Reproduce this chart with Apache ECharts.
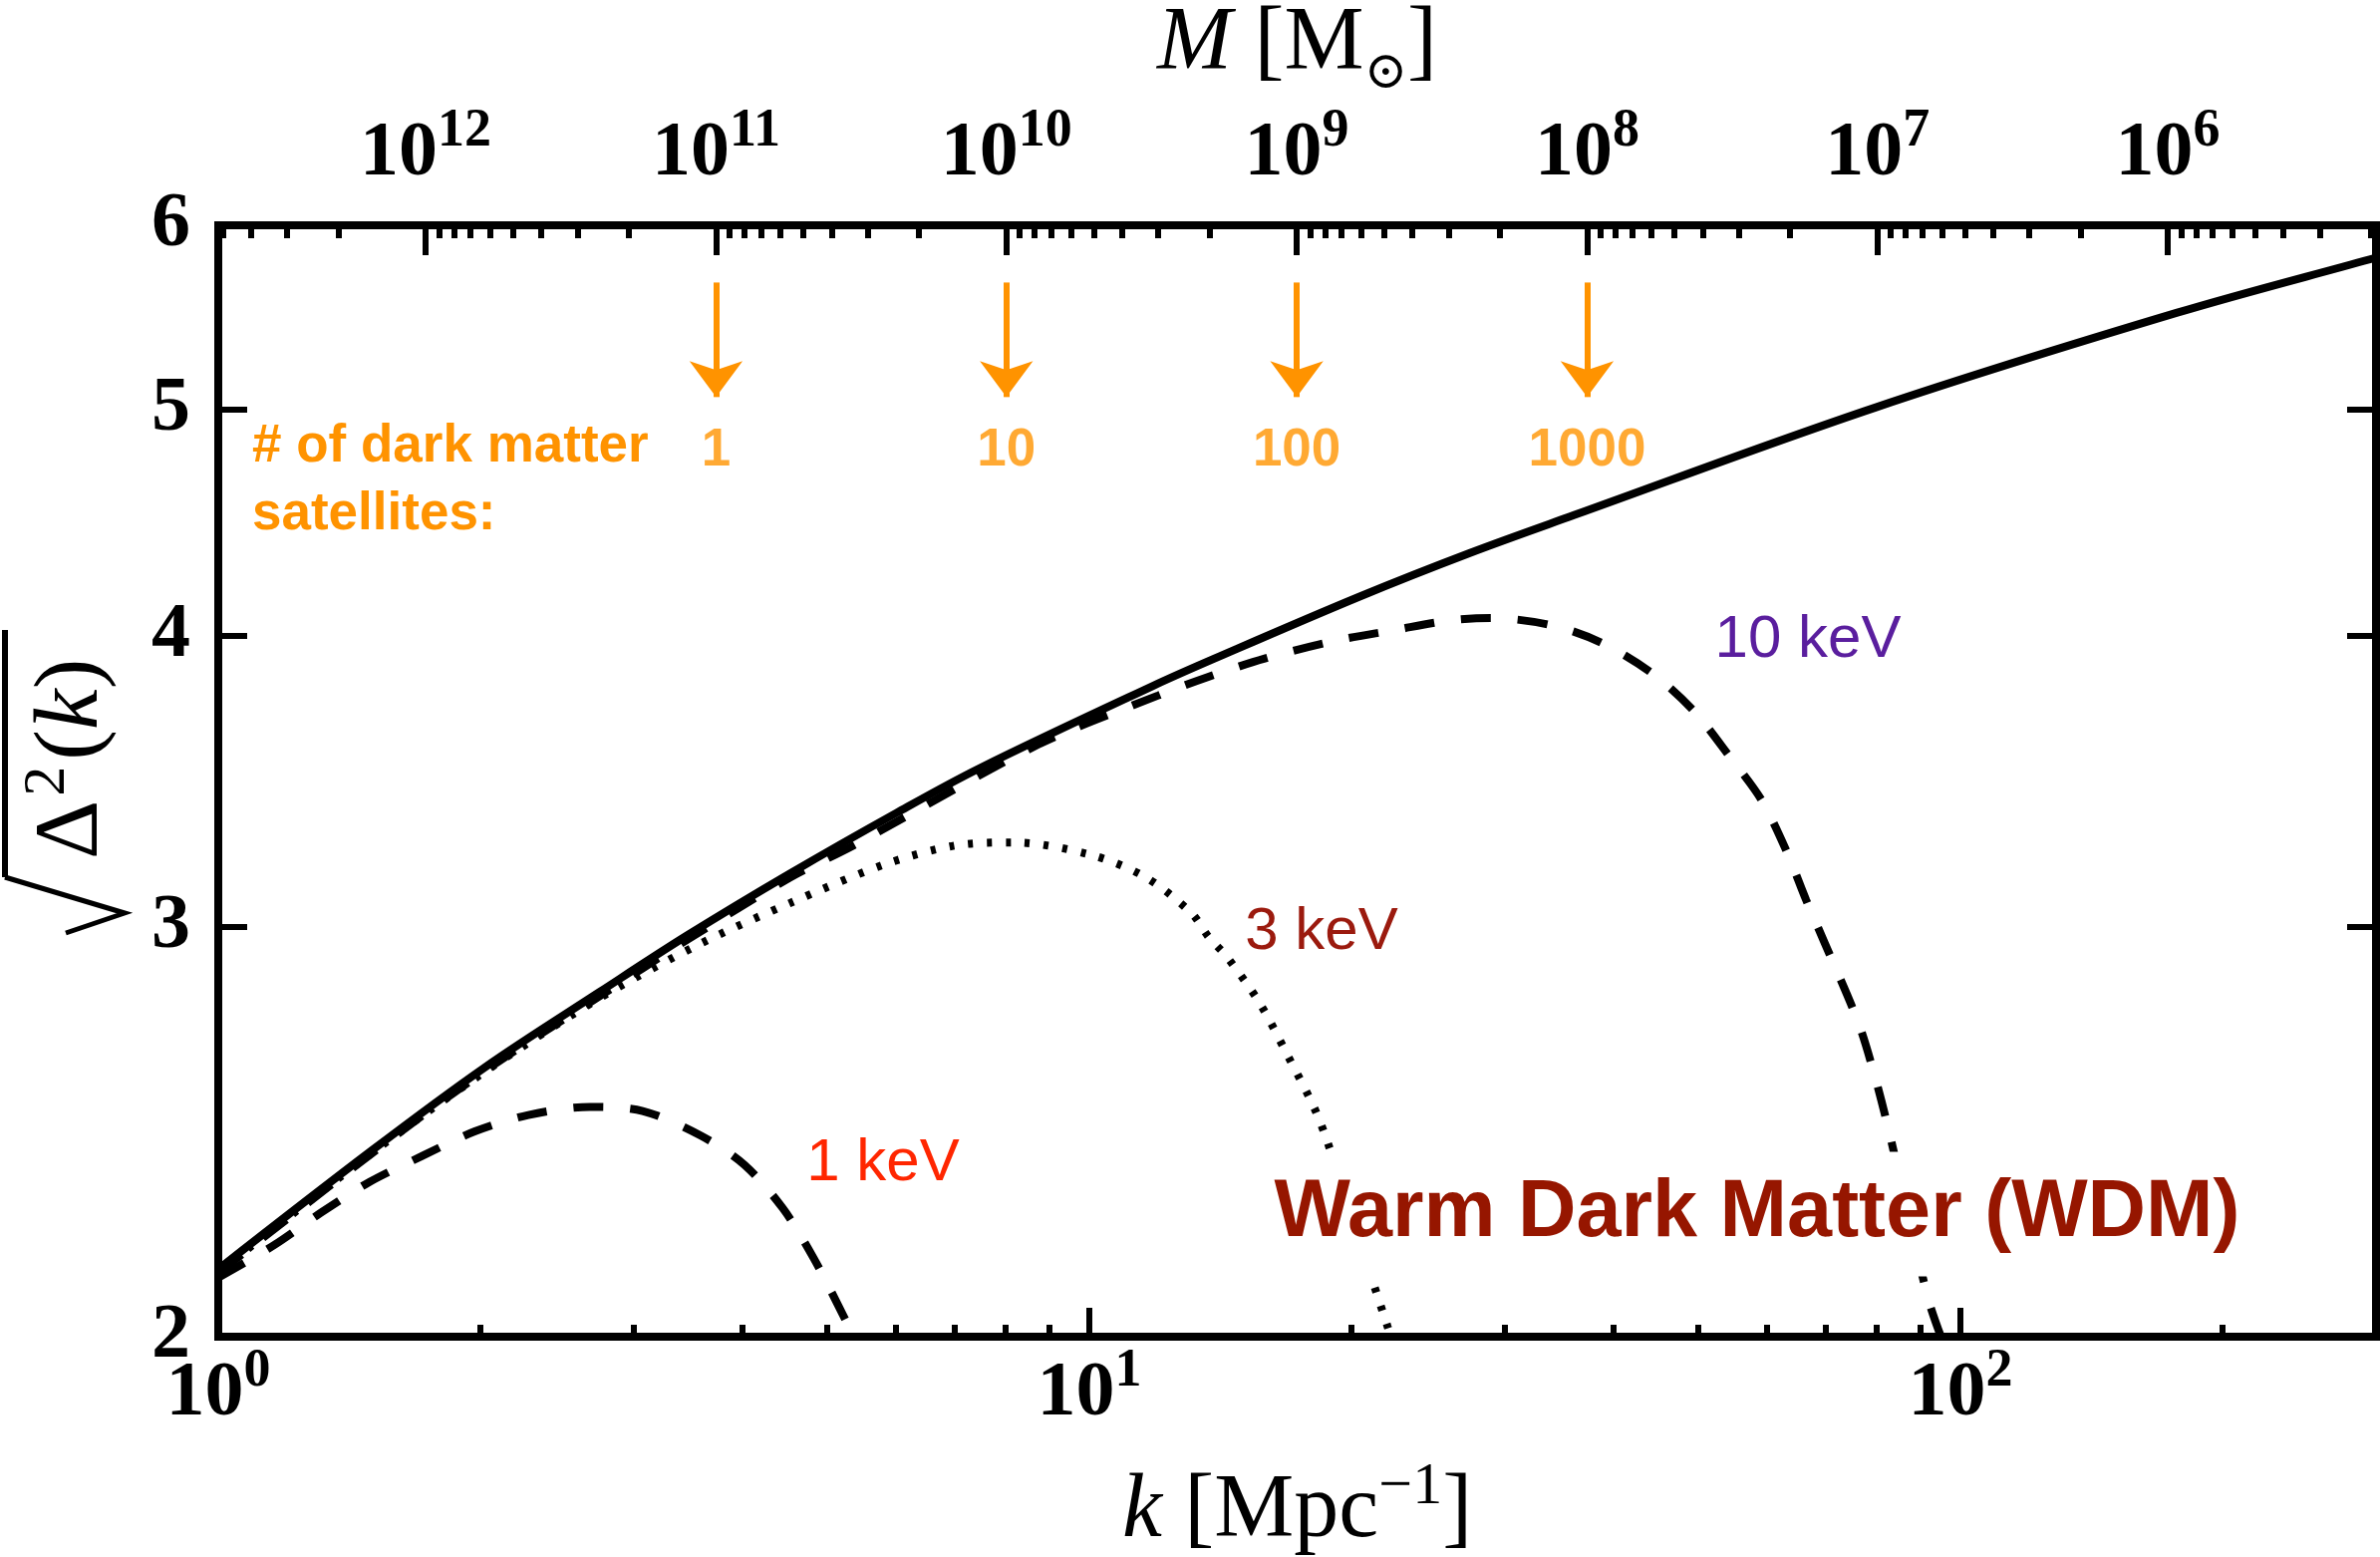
<!DOCTYPE html>
<html><head><meta charset="utf-8">
<script src="https://cdn.jsdelivr.net/npm/echarts@6/dist/echarts.min.js"></script>
<style>html,body{margin:0;padding:0;background:#fff}#c{width:2388px;height:1562px}</style>
</head><body><div id="c"></div>
<script>
// ---------------- data ----------------
const cdmK  = [1.00, 1.50, 2.02, 2.74, 3.46, 4.53, 6.01, 7.48, 11.8, 13.9, 20.4, 27.3, 36.0, 80.0, 177, 295, 300];
const cdmV  = [2.138, 2.404, 2.609, 2.812, 2.975, 3.161, 3.357, 3.508, 3.804, 3.909, 4.156, 4.339, 4.505, 5.012, 5.502, 5.801, 5.81];

const wdm1K = [1.00, 1.16, 1.31, 1.49, 1.71, 1.97, 2.27, 2.67, 3.07, 3.58, 4.02, 4.45, 4.83, 5.26, 5.35];
const wdm1V = [2.12, 2.19, 2.26, 2.33, 2.39, 2.45, 2.49, 2.51, 2.50, 2.44, 2.37, 2.27, 2.16, 2.03, 2.00];

const wdm3K = [1.00, 1.50, 2.02, 2.74, 3.58, 4.53, 5.82, 7.01, 8.20, 10.05, 11.6, 13.1, 13.7, 14.4, 15.7, 16.9, 18.1, 18.8, 21.0, 22.0, 22.2];
const wdm3V = [2.132, 2.398, 2.598, 2.795, 2.95, 3.07, 3.19, 3.25, 3.26, 3.22, 3.15, 3.04, 2.97, 2.91, 2.78, 2.64, 2.51, 2.42, 2.13, 2.02, 2.00];

const wdm10K = [1.00, 1.50, 2.02, 2.74, 3.46, 4.53, 5.36, 8.72, 12.0, 13.7, 15.9, 19.2, 22.3, 25.9, 28.9, 34.0, 38.8, 44.4, 49.5, 54.3, 59.1, 63.2, 66.5, 69.9, 76.3, 79.7, 82.8, 91.7, 95.0];
const wdm10V = [2.13, 2.397, 2.600, 2.800, 2.962, 3.148, 3.25, 3.59, 3.77, 3.84, 3.91, 3.98, 4.02, 4.06, 4.07, 4.04, 3.97, 3.85, 3.71, 3.55, 3.40, 3.23, 3.08, 2.95, 2.73, 2.59, 2.45, 2.08, 2.00];

// tick labels
const kTickExp    = [0, 1, 2];
const massTickExp = [12, 11, 10, 9, 8, 7, 6];
const yTicks      = [2, 3, 4, 5, 6];

// axis ranges
const K_MIN = 1, K_MAX = 300;
const M_AT_K1 = 5.18e12;          // M = M_AT_K1 * k^-3
const Y_MIN = 2, Y_MAX = 6;

// satellite annotations
const satMass  = [1e11, 1e10, 1e9, 1e8];
const satCount = ['1', '10', '100', '1000'];
const ARROW_TOP = 5.67, ARROW_END = 5.063, SAT_LABEL_Y = 4.80;

// ---------------- chart ----------------
const SERIF = '"Liberation Serif","Times New Roman",Times,serif';
const SANS  = '"Liberation Sans",Arial,Helvetica,sans-serif';
const ORANGE = '#FF9300';

const kMajor = kTickExp.map(e => Math.pow(10, e));
const kMinor = [];
for (let e = 0; e <= 2; e++) for (let m = 2; m <= 9; m++) { const v = m * Math.pow(10, e); if (v <= K_MAX) kMinor.push(v); }
const M_MAX = M_AT_K1 / Math.pow(K_MIN, 3);
const M_MIN = M_AT_K1 / Math.pow(K_MAX, 3);
const mMajor = massTickExp.map(e => Math.pow(10, e));
const mMinor = [];
for (let e = 5; e <= 12; e++) for (let m = 2; m <= 9; m++) { const v = m * Math.pow(10, e); if (v >= M_MIN && v <= M_MAX) mMinor.push(v); }

const tickRich = {
  b: { fontFamily: SERIF, fontWeight: 'bold', fontSize: 78, color: '#000', lineHeight: 100 },
  s: { fontFamily: SERIF, fontWeight: 'bold', fontSize: 54, color: '#000', lineHeight: 54, verticalAlign: 'top' }
};
const pow10Label = v => '{b|10}{s|' + Math.round(Math.log10(v)) + '}';
const axisLineOn = { show: true, lineStyle: { color: '#000', width: 8, cap: 'square' } };
const axisLineOff = { show: false };
const tick = (vals, len) => ({ show: true, inside: true, length: len, customValues: vals, lineStyle: { color: '#000', width: 6 } });
const pairs = (ks, vs) => ks.map((k, i) => [k, vs[i]]);

const chart = echarts.init(document.getElementById('c'), null, { renderer: 'canvas', width: 2388, height: 1562 });

const option = {
  animation: false,
  backgroundColor: '#fff',
  grid: { left: 219, top: 226, width: 2165, height: 1115, containLabel: false, outerBoundsMode: 'none' },
  xAxis: [
    { type: 'log', logBase: 10, min: K_MIN, max: K_MAX, position: 'bottom',
      axisLine: axisLineOn, axisTick: tick(kMajor, 29), splitLine: { show: false }, minorTick: { show: false },
      axisLabel: { show: true, customValues: kMajor, formatter: pow10Label, rich: tickRich, margin: 8 },
      name: '{i|k}{r| [Mpc}{u|\u22121}{r|]}', nameLocation: 'middle', nameGap: 121,
      nameTextStyle: { rich: {
        i: { fontFamily: SERIF, fontStyle: 'italic', fontSize: 90, color: '#000', lineHeight: 110 },
        r: { fontFamily: SERIF, fontSize: 90, color: '#000', lineHeight: 110 },
        u: { fontFamily: SERIF, fontSize: 60, color: '#000', lineHeight: 60, verticalAlign: 'top' } } } },
    { type: 'log', logBase: 10, min: K_MIN, max: K_MAX, position: 'bottom',
      axisLine: axisLineOff, axisTick: tick(kMinor, 12), axisLabel: { show: false }, splitLine: { show: false } },
    { type: 'log', logBase: 10, min: M_MIN, max: M_MAX, inverse: true, position: 'top',
      axisLine: axisLineOn, axisTick: tick(mMajor, 30), splitLine: { show: false }, minorTick: { show: false },
      axisLabel: { show: true, customValues: mMajor, formatter: pow10Label, rich: tickRich, margin: 21 },
      name: '{i|M}{r| [M}{o|\u2299}{r|]}', nameLocation: 'middle', nameGap: 124,
      nameTextStyle: { rich: {
        i: { fontFamily: SERIF, fontStyle: 'italic', fontSize: 90, color: '#000', lineHeight: 110 },
        r: { fontFamily: SERIF, fontSize: 90, color: '#000', lineHeight: 110 },
        o: { fontFamily: '"DejaVu Serif",serif', fontSize: 52, color: '#000', lineHeight: 60, verticalAlign: 'bottom' } } } },
    { type: 'log', logBase: 10, min: M_MIN, max: M_MAX, inverse: true, position: 'top',
      axisLine: axisLineOff, axisTick: tick(mMinor, 13), axisLabel: { show: false }, splitLine: { show: false } }
  ],
  yAxis: [
    { type: 'log', logBase: 10, min: Y_MIN, max: Y_MAX, position: 'left',
      axisLine: axisLineOn, axisTick: tick(yTicks, 29), splitLine: { show: false }, minorTick: { show: false },
      axisLabel: { show: true, customValues: yTicks, margin: 28, fontFamily: SERIF, fontWeight: 'bold', fontSize: 78, color: '#000' } },
    { type: 'log', logBase: 10, min: Y_MIN, max: Y_MAX, position: 'right',
      axisLine: axisLineOn, axisTick: tick(yTicks, 29), axisLabel: { show: false }, splitLine: { show: false } }
  ],
  series: [
    { name: 'CDM', type: 'line', xAxisIndex: 0, yAxisIndex: 0, data: pairs(cdmK, cdmV), symbol: 'none', smooth: 0.35,
      lineStyle: { color: '#000', width: 8 }, z: 5 },
    { name: '1 keV', type: 'line', xAxisIndex: 0, yAxisIndex: 0, data: pairs(wdm1K, wdm1V), symbol: 'none', smooth: 0.3,
      lineStyle: { color: '#000', width: 8, type: [30, 27], cap: 'butt' }, z: 4 },
    { name: '3 keV', type: 'line', xAxisIndex: 0, yAxisIndex: 0, data: pairs(wdm3K, wdm3V), symbol: 'none', smooth: 0.3,
      lineStyle: { color: '#000', width: 8, type: [5, 14], cap: 'butt' }, z: 4 },
    { name: '10 keV', type: 'line', xAxisIndex: 0, yAxisIndex: 0, data: pairs(wdm10K, wdm10V), symbol: 'none', smooth: 0.3,
      lineStyle: { color: '#000', width: 8, type: [30, 27], cap: 'butt' }, z: 4 },
    { name: 'satellites', type: 'scatter', xAxisIndex: 2, yAxisIndex: 0, symbolSize: 1,
      itemStyle: { color: 'rgba(0,0,0,0)' },
      data: satMass.map((m, i) => ({ value: [m, SAT_LABEL_Y], label: { formatter: satCount[i] } })),
      label: { show: true, position: 'inside', fontFamily: SANS, fontWeight: 'bold', fontSize: 53, color: ORANGE },
      markLine: { silent: true, animation: false, symbol: ['none', 'arrow'], label: { show: false },
        lineStyle: { color: ORANGE, width: 6, type: 'solid' },
        data: satMass.map(m => [ { coord: [m, ARROW_TOP], symbol: 'none' },
                                 { coord: [m, ARROW_END], symbol: 'arrow', symbolSize: [40, 36] } ]) } }
  ],
  graphic: [
    { type: 'text', z: 100, style: { text: '# of dark matter\nsatellites:', x: 253, y: 414, fontFamily: SANS, fontWeight: 'bold', fontSize: 53,
      lineHeight: 68, fill: ORANGE, align: 'left', verticalAlign: 'top' } },
    { type: 'text', z: 100, style: { text: '1 keV', x: 886, y: 1167, fontFamily: SANS, fontSize: 60, fill: '#FF2600', align: 'center', verticalAlign: 'middle' } },
    { type: 'text', z: 100, style: { text: '3 keV', x: 1326, y: 935, fontFamily: SANS, fontSize: 60, fill: '#9B1A0E', align: 'center', verticalAlign: 'middle' } },
    { type: 'text', z: 100, style: { text: '10 keV', x: 1814, y: 642, fontFamily: SANS, fontSize: 60, fill: '#5A1E9E', align: 'center', verticalAlign: 'middle' } },
    { type: 'text', z: 100, style: { text: 'Warm Dark Matter (WDM)', x: 1763, y: 1218, fontFamily: SANS, fontWeight: 'bold', fontSize: 81,
      fill: '#961600', backgroundColor: '#fff', padding: [22, 12, 22, 12], align: 'center', verticalAlign: 'middle' } },
    // y-axis title: sqrt(Delta^2(k))
    { type: 'text', z: 100, x: 128, y: 862, rotation: Math.PI / 2,
      style: { text: '{d|\u0394}{s|2}{p|(}{k|k}{p|)}', align: 'left', verticalAlign: 'bottom',
        rich: {
          d: { fontFamily: SERIF, fontSize: 92, fill: '#000', color: '#000', lineHeight: 110 },
          s: { fontFamily: SERIF, fontSize: 60, fill: '#000', color: '#000', lineHeight: 60, verticalAlign: 'top', padding: [0, 6, 0, 4] },
          p: { fontFamily: SERIF, fontSize: 92, fill: '#000', color: '#000', lineHeight: 110 },
          k: { fontFamily: SERIF, fontStyle: 'italic', fontSize: 92, fill: '#000', color: '#000', lineHeight: 110 } } } },
    { type: 'line', z: 100, shape: { x1: 5, y1: 632, x2: 5, y2: 880 }, style: { stroke: '#000', lineWidth: 6 } },
    { type: 'polyline', z: 100, shape: { points: [[5, 880], [125, 916], [66, 936]] }, style: { stroke: '#000', lineWidth: 5, fill: null } }
  ]
};
chart.setOption(option);
</script>
</body></html>
